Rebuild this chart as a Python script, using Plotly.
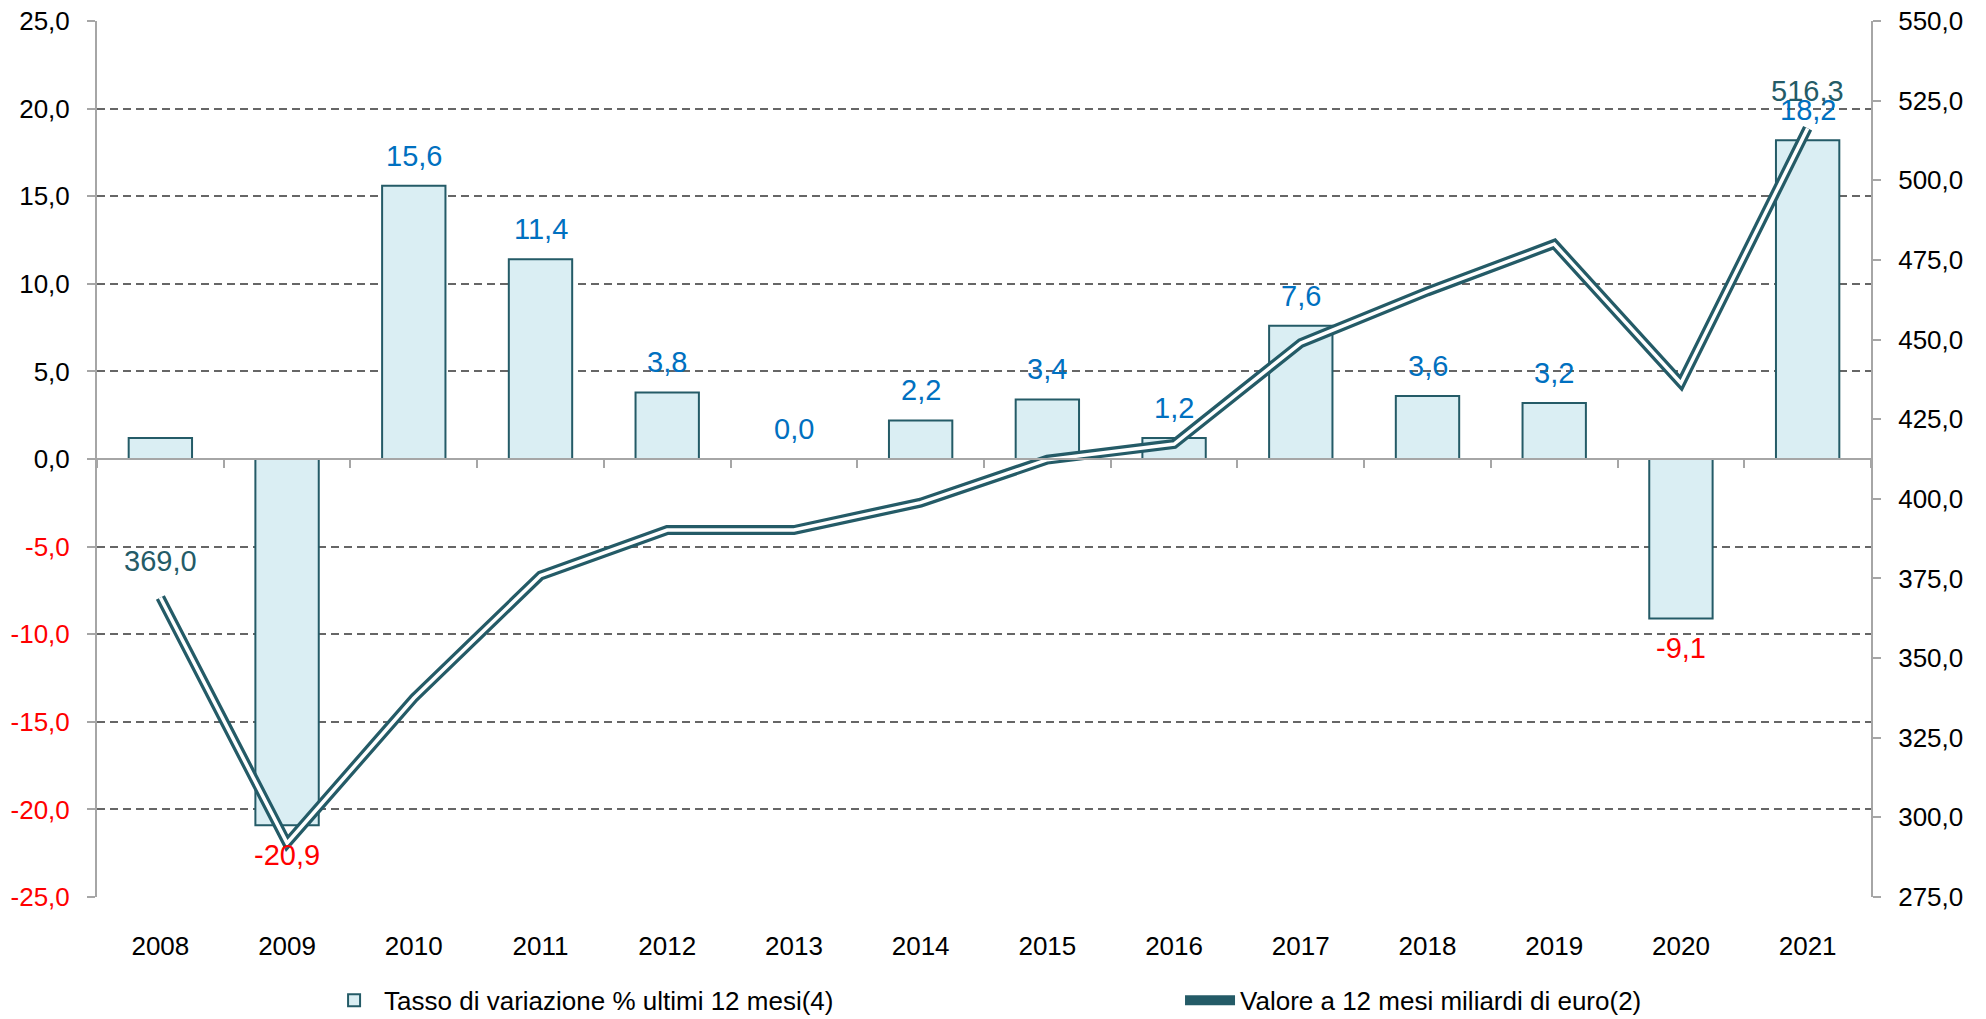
import plotly.graph_objects as go

years = ['2008', '2009', '2010', '2011', '2012', '2013', '2014',
         '2015', '2016', '2017', '2018', '2019', '2020', '2021']
rate = [1.2, -20.9, 15.6, 11.4, 3.8, 0.0, 2.2, 3.4, 1.2, 7.6, 3.6, 3.2, -9.1, 18.2]
value = [369.0, 291.9, 337.4, 375.9, 390.2, 390.2, 398.8, 412.3, 417.2,
         448.9, 465.1, 480.0, 436.3, 516.3]
rate_label_years = years[1:]          # 2008 bar has no label in the original
value_label_years = ['2008', '2021']  # only endpoints of the line are labelled
left_ticks = [25, 20, 15, 10, 5, 0, -5, -10, -15, -20, -25]
right_ticks = [275, 300, 325, 350, 375, 400, 425, 450, 475, 500, 525, 550]

bar_name = 'Tasso di variazione % ultimi 12 mesi(4)'
line_name = 'Valore a 12 mesi miliardi di euro(2)'

FONT = 'Liberation Sans, Arial, sans-serif'
TEAL = '#245B67'
BAR_FILL = '#DAEEF3'
BLUE = '#0070C0'
RED = '#FF0000'
AXIS_GREY = '#A6A6A6'
GRID = '#666666'


def fmt(v):
    return f'{v:.1f}'.replace('.', ',')


fig = go.Figure()

fig.add_trace(go.Bar(
    x=years, y=rate, name=bar_name, width=0.5,
    marker=dict(color=BAR_FILL, line=dict(color=TEAL, width=2)),
    xaxis='x', yaxis='y', legend='legend'))

# invisible helper trace for the category axis drawn at zero
fig.add_trace(go.Scatter(
    x=years, y=rate, mode='markers', marker=dict(opacity=0),
    showlegend=False, hoverinfo='skip', xaxis='x2', yaxis='y'))

fig.add_trace(go.Scatter(
    x=years, y=value, name=line_name, mode='lines',
    line=dict(color=TEAL, width=10), xaxis='x', yaxis='y2',
    legend='legend2'))
fig.add_trace(go.Scatter(
    x=years, y=value, mode='lines', showlegend=False, hoverinfo='skip',
    line=dict(color='white', width=3.5), xaxis='x', yaxis='y2'))

annotations = []
# category axes take the category serial number for annotation positions
for i, (yr, r) in enumerate(zip(years, rate)):
    if yr not in rate_label_years:
        continue
    if r >= 0:
        annotations.append(dict(x=i, y=r, xref='x', yref='y', text=fmt(r),
                                showarrow=False, yanchor='bottom', yshift=12,
                                font=dict(family=FONT, size=29, color=BLUE)))
    else:
        annotations.append(dict(x=i, y=r, xref='x', yref='y', text=fmt(r),
                                showarrow=False, yanchor='top', yshift=-12,
                                font=dict(family=FONT, size=29, color=RED)))
for i, (yr, v) in enumerate(zip(years, value)):
    if yr in value_label_years:
        annotations.append(dict(x=i, y=v, xref='x', yref='y2', text=fmt(v),
                                showarrow=False, yanchor='bottom', yshift=19,
                                font=dict(family=FONT, size=29, color=TEAL)))

left_text = [fmt(t) if t >= 0 else f'<span style="color:{RED}">{fmt(t)}</span>'
             for t in left_ticks]

cat_range = [-0.5, len(years) - 0.5]
legend_common = dict(orientation='h', yanchor='middle', y=-0.118,
                     xanchor='left', itemwidth=50,
                     font=dict(family=FONT, size=26, color='black'),
                     bgcolor='rgba(0,0,0,0)')

fig.update_layout(
    width=1986, height=1019,
    margin=dict(l=97, r=115, t=21, b=122, autoexpand=False),
    plot_bgcolor='white', paper_bgcolor='white',
    font=dict(family=FONT, size=26, color='black'),
    separators=',.',
    showlegend=True,
    legend=dict(x=0.128, **legend_common),
    legend2=dict(x=0.6105, **legend_common),
    xaxis=dict(type='category', categoryorder='array', categoryarray=years,
               range=cat_range, showgrid=False, showline=False, ticks='',
               zeroline=False, tickfont=dict(size=26, color='black'),
               ticklabelstandoff=31),
    xaxis2=dict(type='category', categoryorder='array', categoryarray=years,
                range=cat_range, overlaying='x', anchor='free', position=0.5,
                side='bottom', showticklabels=False, showgrid=False,
                showline=True, linecolor=AXIS_GREY, linewidth=2,
                ticks='outside', tickson='boundaries', ticklen=8,
                tickcolor=AXIS_GREY, tickwidth=2),
    yaxis=dict(range=[-25, 25], tickmode='array', tickvals=left_ticks,
               ticktext=left_text, showgrid=True, gridcolor=GRID,
               gridwidth=2, griddash='8px,5px', zeroline=False,
               showline=True, linecolor=AXIS_GREY, linewidth=2,
               ticks='outside', ticklen=8, tickcolor=AXIS_GREY, tickwidth=2,
               tickfont=dict(size=26, color='black'), ticklabelstandoff=12,
               ticklabeloverflow='allow'),
    yaxis2=dict(range=[275, 550], overlaying='y', side='right',
                tickmode='array', tickvals=right_ticks,
                ticktext=[fmt(t) for t in right_ticks],
                showgrid=False, zeroline=False, showline=True,
                linecolor=AXIS_GREY, linewidth=2, ticks='outside',
                ticklen=8, tickcolor=AXIS_GREY, tickwidth=2,
                tickfont=dict(size=26, color='black'), ticklabelstandoff=12,
                ticklabeloverflow='allow'),
    annotations=annotations,
)

# remove the default 8px page margin so the figure fills the window exactly
fig.write_html('out.html',
               config={'displayModeBar': False},
               post_script="document.body.style.margin='0';"
                           "document.body.style.overflow='hidden';")
